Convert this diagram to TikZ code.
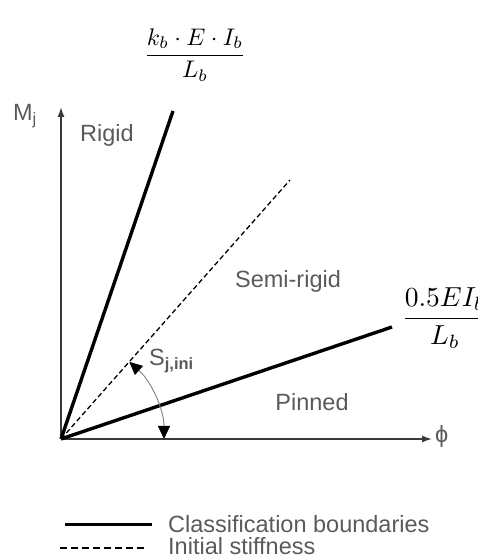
\documentclass[tikz,border=0pt]{standalone}
\usepackage{amsmath}
\usepackage{fontspec}
\setmainfont{Liberation Sans}
\usepackage{tikz}
\usetikzlibrary{arrows.meta,positioning,calc}
\definecolor{TX}{HTML}{5A5A5A}
\definecolor{AX}{HTML}{3A3A3A}

\begin{document}
\begin{tikzpicture}[x=1pt,y=1pt,
    lbl/.style={text=TX, font=\fontsize{23.5}{27}\selectfont, inner sep=0pt},
    axis/.style={AX, line width=1.4pt, -{Latex[length=10pt,width=7pt]}},
    bound/.style={black, line width=3.4pt},
    initial/.style={black, line width=1.3pt, dash pattern=on 5pt off 3pt}]
  \useasboundingbox (0,0) rectangle (478,558);
  % axes
  \coordinate (O) at (61,119);
  \coordinate (ytop) at (61,451);
  \coordinate (xend) at (432,119);
  \draw[axis] (O) -- (ytop);
  \draw[axis] (O) -- (xend);
  \node[lbl] (mj) at (25,442) {M\textsubscript{j}};
  \node[lbl, anchor=west] (phi) at (435,122) {ϕ};
  % boundaries and initial stiffness
  \coordinate (rigidend) at (173,447);
  \coordinate (iniend) at (290,378);
  \coordinate (pinend) at (392,231);
  \draw[bound] (O) -- (rigidend);
  \draw[initial] (O) -- (iniend);
  \draw[bound] (O) -- (pinend);
  % angle arrow
  \draw[gray, line width=0.9pt, {Triangle[length=13pt,width=12pt,fill=black,color=black]}-{Triangle[length=13pt,width=12pt,fill=black,color=black]}]
    ([shift=(48.5:103)]O) arc[start angle=48.5, end angle=0, radius=103];
  \node[lbl, anchor=west] (sini) at (149,197) {S\textsubscript{\textbf{j,ini}}};
  % zones
  \node[lbl] (rigid) at (107,423) {Rigid};
  \node[lbl] (semi) at (288,277) {Semi-rigid};
  \node[lbl] (pinned) at (312,156) {Pinned};
  % limits
  \node[inner sep=0pt, scale=2.4] (kb) at (195,503)
    {$\dfrac{k_b\cdot E\cdot I_b}{L_b}$};
  \node[inner sep=0pt, anchor=west, scale=2.75] (half) at (401,240)
    {$\dfrac{0.5EI_b}{L_b}$};
  % legend
  \coordinate (la) at (65,33);
  \coordinate (lb) at (152,33);
  \coordinate (lc) at (60,10);
  \coordinate (ld) at (147,10);
  \draw[bound, line width=3pt] (la) -- (lb);
  \draw[initial, dash pattern=on 7pt off 4pt] (lc) -- (ld);
  \node[lbl, anchor=west] (cb) at (168,34) {Classification boundaries};
  \node[lbl, anchor=west] (is) at (168,12) {Initial stiffness};
\end{tikzpicture}
\end{document}
